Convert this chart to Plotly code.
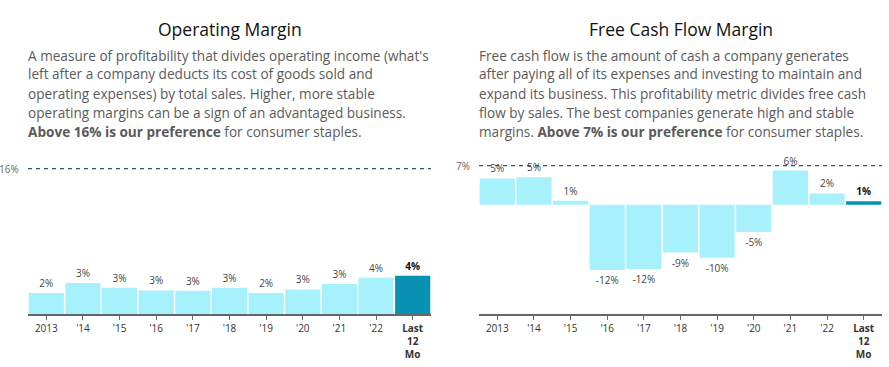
import plotly.graph_objects as go

categories = ["2013", "'14", "'15", "'16", "'17", "'18", "'19", "'20", "'21", "'22", "Last 12 Mo"]
tick_labels = ["2013", "'14", "'15", "'16", "'17", "'18", "'19", "'20", "'21", "'22", "<b>Last<br>12<br>Mo</b>"]
op_margin = [2.3, 3.4, 2.9, 2.6, 2.55, 2.9, 2.3, 2.7, 3.3, 4.0, 4.2]
fcf_margin = [4.7, 4.9, 0.7, -11.7, -11.55, -8.6, -9.5, -4.9, 6.1, 2.0, 0.6]
op_threshold = 16
fcf_threshold = 7

LIGHT = "#a6f1fb"
DARK = "#0891b2"
FONT = "Open Sans"

def labels(vals):
    out = []
    for i, v in enumerate(vals):
        s = f"{round(v + (0.0001 if v >= 0 else -0.0001)):.0f}%"
        out.append(f"<b>{s}</b>" if i == len(vals) - 1 else s)
    return out

colors = [LIGHT] * (len(categories) - 1) + [DARK]
tcolors = ["#444444"] * (len(categories) - 1) + ["#111111"]

fig = go.Figure()
fig.add_trace(go.Bar(x=categories, y=op_margin, marker=dict(color=colors, line=dict(width=0)),
                     text=labels(op_margin), textposition="outside", cliponaxis=False,
                     textfont=dict(size=10, color=tcolors, family=FONT), xaxis="x", yaxis="y",
                     hoverinfo="skip"))
fig.add_trace(go.Bar(x=categories, y=fcf_margin, marker=dict(color=colors, line=dict(width=0)),
                     text=labels(fcf_margin), textposition="outside", cliponaxis=False,
                     textfont=dict(size=10, color=tcolors, family=FONT), xaxis="x2", yaxis="y2",
                     hoverinfo="skip"))

W, H = 889, 367
ydom = [1 - 314 / H, 1 - 160 / H]
xaxis_common = dict(type="category", showgrid=False, zeroline=False, showline=True,
                    linecolor="#666666", linewidth=1.5, ticks="outside", ticklen=4,
                    tickcolor="#666666", tickfont=dict(size=10, color="#333333", family=FONT),
                    tickvals=categories, ticktext=tick_labels, fixedrange=True)
yaxis_common = dict(visible=False, showgrid=False, zeroline=False, fixedrange=True)

fig.update_layout(
    width=W, height=H, margin=dict(l=0, r=0, t=0, b=0),
    paper_bgcolor="white", plot_bgcolor="white", showlegend=False, bargap=0.04,
    font=dict(family=FONT),
    xaxis=dict(domain=[28 / W, 431 / W], anchor="y", **xaxis_common),
    xaxis2=dict(domain=[479 / W, 882 / W], anchor="y2", **xaxis_common),
    yaxis=dict(domain=ydom, range=[0, 16.95], anchor="x", **yaxis_common),
    yaxis2=dict(domain=ydom, range=[-19.6, 8.0], anchor="x2", **yaxis_common),
)

for xr, yr, thr in [("x", "y", op_threshold), ("x2", "y2", fcf_threshold)]:
    fig.add_shape(type="line", xref=f"{xr} domain", yref=yr, x0=0, x1=1, y0=thr, y1=thr,
                  line=dict(color="#1e5f6e", width=1.2, dash="4px,4px"), layer="below")
    fig.add_annotation(xref=f"{xr} domain", yref=yr, x=0, y=thr, xshift=-7, xanchor="right",
                       yanchor="middle", text=f"{thr}%", showarrow=False,
                       font=dict(size=10, color="#666666", family=FONT))

titles = ["Operating Margin", "Free Cash Flow Margin"]
descs = [
    ["A measure of profitability that divides operating income (what's",
     "left after a company deducts its cost of goods sold and",
     "operating expenses) by total sales. Higher, more stable",
     "operating margins can be a sign of an advantaged business.",
     "<b>Above 16% is our preference</b> for consumer staples."],
    ["Free cash flow is the amount of cash a company generates",
     "after paying all of its expenses and investing to maintain and",
     "expand its business. This profitability metric divides free cash",
     "flow by sales. The best companies generate high and stable",
     "margins. <b>Above 7% is our preference</b> for consumer staples."],
]
for i, xr in enumerate(["x", "x2"]):
    fig.add_annotation(xref=f"{xr} domain", yref="paper", x=0.5, y=1 - 29 / H, xanchor="center",
                       yanchor="middle", text=titles[i], showarrow=False,
                       font=dict(size=17.5, color="#111111", family=FONT))
    for j, line in enumerate(descs[i]):
        fig.add_annotation(xref=f"{xr} domain", yref="paper", x=0, y=1 - (55 + 19 * j) / H,
                           xanchor="left", xshift=-2, yanchor="middle", align="left", text=line,
                           showarrow=False, font=dict(size=13.6, color="#5a5a5a", family=FONT))

fig.write_html("out.html", config={"displayModeBar": False},
               post_script="document.body.style.margin='0';document.body.style.overflow='hidden';")
